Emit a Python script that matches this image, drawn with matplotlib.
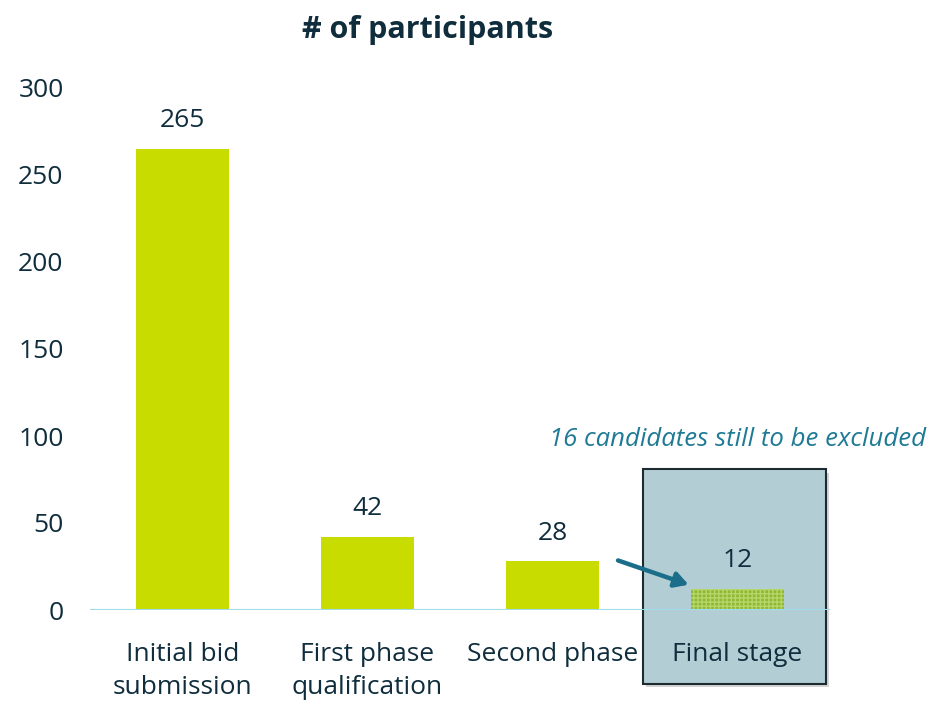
import matplotlib.pyplot as plt
from matplotlib.patches import Rectangle

stages = ["Initial bid\nsubmission", "First phase\nqualification", "Second phase", "Final stage"]
participants = [265, 42, 28, 12]
yticks = [0, 50, 100, 150, 200, 250, 300]

plt.rcParams['font.family'] = ['Open Sans', 'DejaVu Sans']
txt = '#0f2d3c'
green = '#c8dc00'
teal = '#1a6e8a'

fig = plt.figure(figsize=(9.34, 7.03), dpi=100)
ax = fig.add_axes([90/934, 93/703, 740/934, 522/703])
ax.set_xlim(-0.5, 3.5)
ax.set_ylim(0, 300)

x = list(range(len(stages)))
bars = ax.bar(x[:3], participants[:3], width=0.5, color=green, zorder=3)
# last bar: hatched, still provisional
ax.bar(x[3], participants[3], width=0.5, color='#8fb935', hatch='++++',
       edgecolor='#b7d66a', linewidth=0, zorder=3)

# highlighted box around final stage (with a soft shadow)
shadow = Rectangle((2.505, -44.5), 0.99, 123.5, facecolor='#d5d5d5', edgecolor='none',
                   clip_on=False, zorder=0.5)
ax.add_patch(shadow)
box = Rectangle((2.49, -42.5), 0.99, 123.5, facecolor='#b3cdd5', edgecolor='#1c2b30',
                linewidth=1.5, clip_on=False, zorder=1)
ax.add_patch(box)

for xi, v in zip(x, participants):
    ax.text(xi, v + 9, str(v), ha='center', va='bottom', fontsize=19, color=txt, zorder=5)

ax.axhline(0, color='#9fdcec', linewidth=1.5, zorder=4)

for s in ax.spines.values():
    s.set_visible(False)
ax.set_yticks(yticks)
ax.set_yticklabels([str(t) for t in yticks], fontsize=19, color=txt)
ax.tick_params(axis='y', length=0, pad=19)
ax.set_xticks(x)
ax.set_xticklabels(stages, fontsize=19, color=txt, linespacing=1.4)
ax.tick_params(axis='x', length=0, pad=23)
for lbl in ax.get_xticklabels():
    lbl.set_va('top')
    lbl.set_zorder(6)

ax.annotate('', xy=(2.75, 14), xytext=(2.34, 29),
            arrowprops=dict(arrowstyle='-|>,head_length=0.8,head_width=0.45', color=teal, lw=3.2),
            zorder=6)
ax.text(3.0, 98, '16 candidates still to be excluded', ha='center', va='center',
        fontsize=18.5, style='italic', color='#1f7a95')

fig.text(428/934, 1 - 30/703, '# of participants', ha='center', va='center',
         fontsize=22, fontweight='bold', color=txt)

fig.savefig('out.png', dpi=100)
